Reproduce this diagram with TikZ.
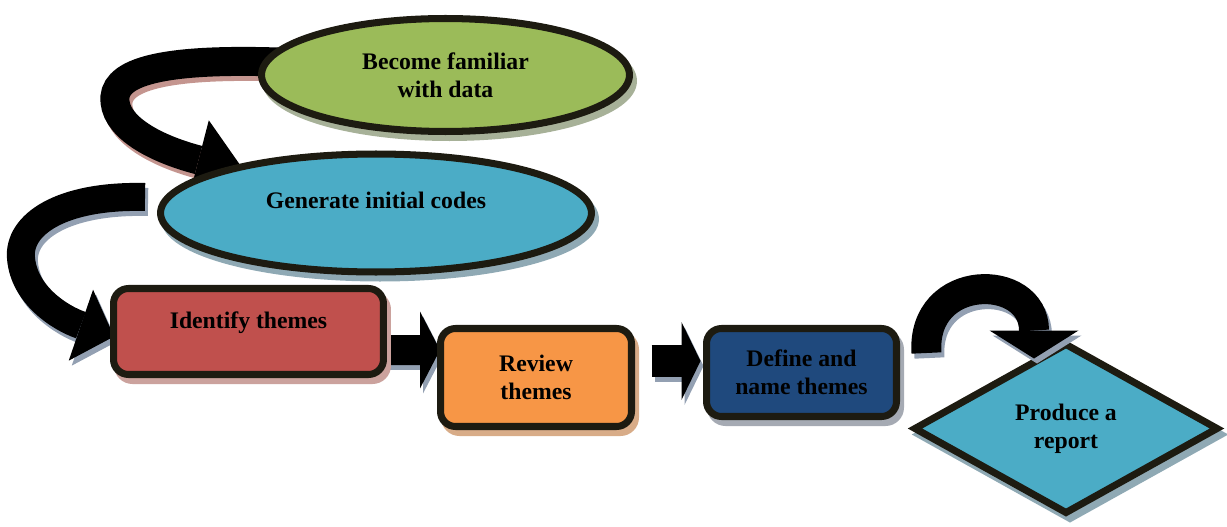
\documentclass[tikz,border=0pt]{standalone}
\usepackage{fontspec}
\setmainfont{Liberation Serif}
\usetikzlibrary{shapes.geometric,arrows.meta,shadows,calc}
\pgfdeclarelayer{bg}
\pgfsetlayers{bg,main}
\definecolor{edge}{HTML}{1D1B11}
\definecolor{cgreen}{HTML}{9BBB59}
\definecolor{cblue}{HTML}{4BACC6}
\definecolor{cred}{HTML}{C0504D}
\definecolor{corange}{HTML}{F79646}
\definecolor{cnavy}{HTML}{1F497D}
\definecolor{sgreen}{HTML}{A7B198}
\definecolor{sblue}{HTML}{8FA9B4}
\definecolor{sred}{HTML}{CBA29D}
\definecolor{sorange}{HTML}{D8AC88}
\definecolor{snavy}{HTML}{A5AAB3}
\definecolor{spink}{HTML}{C4958F}
\definecolor{sgrey}{HTML}{93A0B2}
\begin{document}
\begin{tikzpicture}[x=0.02cm, y=-0.02cm,
  stage/.style 2 args={draw=edge, line width=4pt, fill=#1, text=black,
     drop shadow={shadow xshift=0.08cm, shadow yshift=-0.12cm, fill=#2, draw=#2, line width=4pt, opacity=1},
     font=\fontsize{13.5}{15.9}\selectfont\bfseries, align=center, inner sep=0pt},
  box/.style={rectangle, rounded corners=0.3cm},
  shadowshift/.style={transform canvas={xshift=0.06cm,yshift=-0.1cm}},
]
\useasboundingbox (0,0) rectangle (1227,527);

\node[stage={cgreen}{sgreen}, ellipse, minimum width=7.36cm, minimum height=2.26cm] (fam) at (445.5,75) {Become familiar\\with data};
\node[stage={cblue}{sblue}, ellipse, minimum width=8.62cm, minimum height=2.36cm, text depth=15pt] (gen) at (376,213) {Generate initial codes};
\node[stage={cred}{sred}, box, minimum width=5.4cm, minimum height=1.72cm, text depth=12.5pt] (idt) at (248.5,331.5) {Identify themes};
\node[stage={corange}{sorange}, box, minimum width=3.82cm, minimum height=1.96cm] (rev) at (536,377.5) {Review\\themes};
\node[stage={cnavy}{snavy}, box, minimum width=3.8cm, minimum height=1.76cm] (def) at (801.5,372.5) {Define and\\name themes};
\node[stage={cblue}{sblue}, diamond, minimum width=6.1cm, minimum height=3.42cm] (rep) at (1066,428.5) {Produce a\\report};

\begin{pgfonlayer}{bg}
  \begin{scope}[shadowshift]
    \draw[line width=0.58cm, draw=spink, -{Triangle[length=0.96cm,width=1.64cm,line width=0pt]}]
      ($(fam.west)+(20,-13)$) .. controls (150,58) and (112,75) .. (115,102)
      .. controls (118,130) and (160,150) .. ($(gen.center)+(-131,-41)$);
    \draw[line width=0.56cm, draw=sgrey, -{Triangle[length=0.7cm,width=1.5cm,line width=0pt]}]
      ($(gen.west)+(-12,-16)$) .. controls (60,195) and (18,225) .. (21,258)
      .. controls (24,295) and (60,318) .. ($(idt.west)+(4,5)$);
    \draw[line width=0.6cm, draw=sgrey, -{Triangle[length=0.4cm,width=1.54cm,line width=0pt]}]
      ($(idt.east)+(0,18.5)$) -- ($(rev.west)+(3,-27.5)$);
    \draw[line width=0.64cm, draw=sgrey, -{Triangle[length=0.38cm,width=1.56cm,line width=0pt]}]
      ($(rev.east)+(16.5,-16.5)$) -- ($(def.west)+(-2.5,-11.5)$);
  \end{scope}
  \draw[line width=0.58cm, draw=black, -{Triangle[length=0.96cm,width=1.64cm,line width=0pt]}]
    ($(fam.west)+(20,-13)$) .. controls (150,58) and (112,75) .. (115,102)
    .. controls (118,130) and (160,150) .. ($(gen.center)+(-131,-41)$);
  \draw[line width=0.56cm, draw=black, -{Triangle[length=0.7cm,width=1.5cm,line width=0pt]}]
    ($(gen.west)+(-12,-16)$) .. controls (60,195) and (18,225) .. (21,258)
    .. controls (24,295) and (60,318) .. ($(idt.west)+(4,5)$);
  \draw[line width=0.6cm, draw=black, -{Triangle[length=0.4cm,width=1.54cm,line width=0pt]}]
    ($(idt.east)+(0,18.5)$) -- ($(rev.west)+(3,-27.5)$);
  \draw[line width=0.64cm, draw=black, -{Triangle[length=0.38cm,width=1.56cm,line width=0pt]}]
    ($(rev.east)+(16.5,-16.5)$) -- ($(def.west)+(-2.5,-11.5)$);
\end{pgfonlayer}

\begin{scope}[shadowshift]
  \draw[line width=0.6cm, draw=sgrey, -{Triangle[length=0.56cm,width=1.78cm,line width=0pt]}]
    ($(def.east)+(26.5,-19.5)$) .. controls (921,272) and (1034,272) .. ($(rep.north)+(-32,19)$);
\end{scope}
\draw[line width=0.6cm, draw=black, -{Triangle[length=0.56cm,width=1.78cm,line width=0pt]}]
  ($(def.east)+(26.5,-19.5)$) .. controls (921,272) and (1034,272) .. ($(rep.north)+(-32,19)$);
\end{tikzpicture}
\end{document}
